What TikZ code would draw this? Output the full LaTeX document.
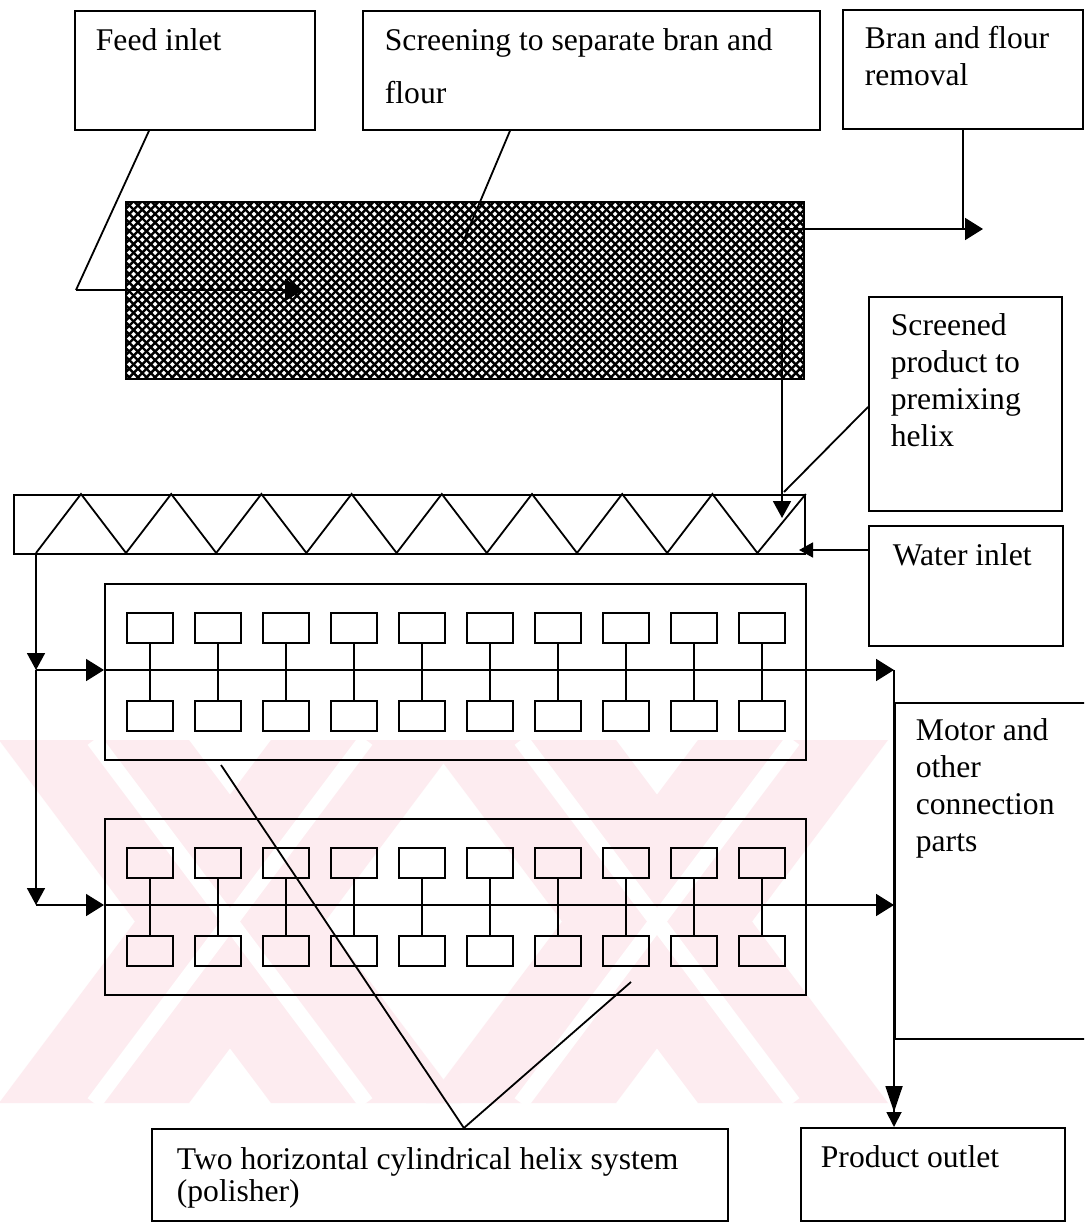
\documentclass[tikz,border=0pt]{standalone}
\usepackage{fontspec}
\setmainfont{Liberation Serif}
\usetikzlibrary{arrows.meta,calc}
\definecolor{wmpink}{RGB}{253,236,240}
\begin{document}
\begin{tikzpicture}[x=1pt,y=-1pt,line width=1.8pt,
  box/.style={draw,line width=1.8pt,inner sep=0pt,anchor=north west},
  cell/.style={draw,line width=1.8pt,inner sep=0pt,minimum width=46pt,minimum height=30pt,anchor=north west},
  lbl/.style={anchor=north west,inner sep=0pt,align=left,font=\fontsize{31.6}{37}\selectfont},
  rtip/.style={-{Triangle[length=18pt,width=22pt]}},
  dtip/.style={-{Triangle[length=17pt,width=18pt]}},
  wtip/.style={-{Triangle[length=14pt,width=15pt]}},
  twotip/.style={-{Triangle[length=26pt,width=17pt,sep=0pt]Triangle[length=15pt,width=15pt]}},
  wmleg/.style={fill=wmpink,draw=none},
  wmcut/.style={draw=white,line width=16pt}]
\useasboundingbox (0,0) rectangle (1084,1223);
\clip (0,0) rectangle (1084,1223);
\fill[white] (0,0) rectangle (1084,1223);

% faint watermark band at the foot of the page
\foreach \cx in {230,657} {
  \fill[wmleg] (\cx-231,740) -- (\cx-41,740) -- (\cx+231,1103) -- (\cx+41,1103) -- cycle;
  \fill[wmleg] (\cx+41,740) -- (\cx+231,740) -- (\cx-41,1103) -- (\cx-231,1103) -- cycle;
  \draw[wmcut] (\cx-136,740) -- (\cx+136,1103);
  \draw[wmcut] (\cx+136,740) -- (\cx-136,1103);
}

% label boxes
\node[box,minimum width=240pt,minimum height=119pt] (feed) at (74,10) {};
\node[box,minimum width=457pt,minimum height=119pt] (screen) at (362,10) {};
\node[box,minimum width=240pt,minimum height=119pt] (bran) at (842,9) {};
\node[box,minimum width=193pt,minimum height=214pt] (screened) at (868,296) {};
\node[box,minimum width=194pt,minimum height=120pt] (water) at (868,525) {};
\node[box,minimum width=240pt,minimum height=336pt] (motor) at (894,702) {};
\node[box,minimum width=576pt,minimum height=92pt] (two) at (151,1128) {};
\node[box,minimum width=264pt,minimum height=93pt] (product) at (800,1127) {};

% texts
\node[lbl] (tfeed) at (95,24.1) {\strut Feed inlet};
\node[lbl,font=\fontsize{31.6}{53}\selectfont] (tscreen) at (384,12.9) {\strut Screening to separate bran and\\flour};
\node[lbl] (tbran) at (864,22.1) {\strut Bran and flour\\removal};
\node[lbl] (tscreened) at (890,309.1) {\strut Screened\\product to\\premixing\\helix};
\node[lbl] (twater) at (892,539.1) {\strut Water inlet};
\node[lbl] (tmotor) at (915,714.1) {\strut Motor and\\other\\connection\\parts};
\node[lbl,font=\fontsize{31.6}{31}\selectfont] (ttwo) at (176,1146.3) {\strut Two horizontal cylindrical helix system\\(polisher)};
\node[lbl] (tproduct) at (820,1141.1) {\strut Product outlet};

% screening drum with cross hatching
\node[box,minimum width=678pt,minimum height=177pt] (drum) at (125,201) {};
\begin{scope}
  \clip (drum.north west) rectangle (drum.south east);
  \foreach \i in {-22,...,101} {
    \draw[line width=2.4pt] ($(drum.north west)+(\i*8.6,0)$) -- ++(180,180);
    \draw[line width=2.4pt] ($(drum.north west)+(\i*8.6,0)$) -- ++(-180,180);
  }
\end{scope}
\node[box,minimum width=678pt,minimum height=177pt] (drumframe) at (125,201) {};

% premixing helix
\node[box,minimum width=791pt,minimum height=59pt] (helix) at (13,494) {};
\coordinate (hout) at (36,553);
\draw[line join=miter] (hout) \foreach \k in {0,...,7} { -- (81+\k*90.2,494) -- (126+\k*90.2,553) } -- (helix.north east);

% two polishers with paddle pairs
\node[box,minimum width=701pt,minimum height=176pt] (pola) at (104,583) {};
\node[box,minimum width=701pt,minimum height=176pt] (polb) at (104,818) {};
\foreach \k in {0,...,9} {
  \node[cell] (at\k) at (126+\k*68,612) {};
  \node[cell] (ab\k) at (126+\k*68,700) {};
  \draw (at\k.south) -- (ab\k.north);
  \node[cell] (bt\k) at (126+\k*68,847) {};
  \node[cell] (bb\k) at (126+\k*68,935) {};
  \draw (bt\k.south) -- (bb\k.north);
}

% flow connectors
\coordinate (fk) at (76,290);
\coordinate (ft) at (303,290);
\draw ($(feed.south west)+(75,0)$) -- (fk);
\draw[rtip] (fk) -- (ft);

\coordinate (sl) at (461,247);
\draw ($(screen.south west)+(148,0)$) -- (sl);

\coordinate (bo) at (782,229);
\coordinate (bt) at (983,229);
\draw[rtip] (bo) -- (bt);
\draw (bran.south) -- (bran.south |- bo);

\coordinate (sp) at (782,317);
\coordinate (spend) at (782,518);
\coordinate (sph) at (784,492);
\draw[dtip] (sp) -- (spend);
\draw ($(screened.north west)+(0,111)$) -- (sph);

\coordinate (wt) at (799,550);
\draw[wtip] ($(water.north west)+(0,25)$) -- (wt);

\coordinate (ja) at (36,670);
\coordinate (jb) at (36,905);
\draw[dtip] (hout) -- (ja);
\draw[dtip] (ja) -- (jb);
\draw[rtip] (ja) -- (ja -| pola.west);
\draw[rtip] (jb) -- (jb -| polb.west);
\draw[rtip] (ja -| pola.west) -- (ja -| motor.west);
\draw[rtip] (jb -| polb.west) -- (jb -| motor.west);
\draw[twotip] (ja -| motor.west) -- (motor.west |- product.north);

\coordinate (apex) at ($(two.north)+(24,0)$);
\coordinate (la) at (221,765);
\coordinate (lb) at (631,982);
\draw (apex) -- (la);
\draw (apex) -- (lb);
\end{tikzpicture}
\end{document}
